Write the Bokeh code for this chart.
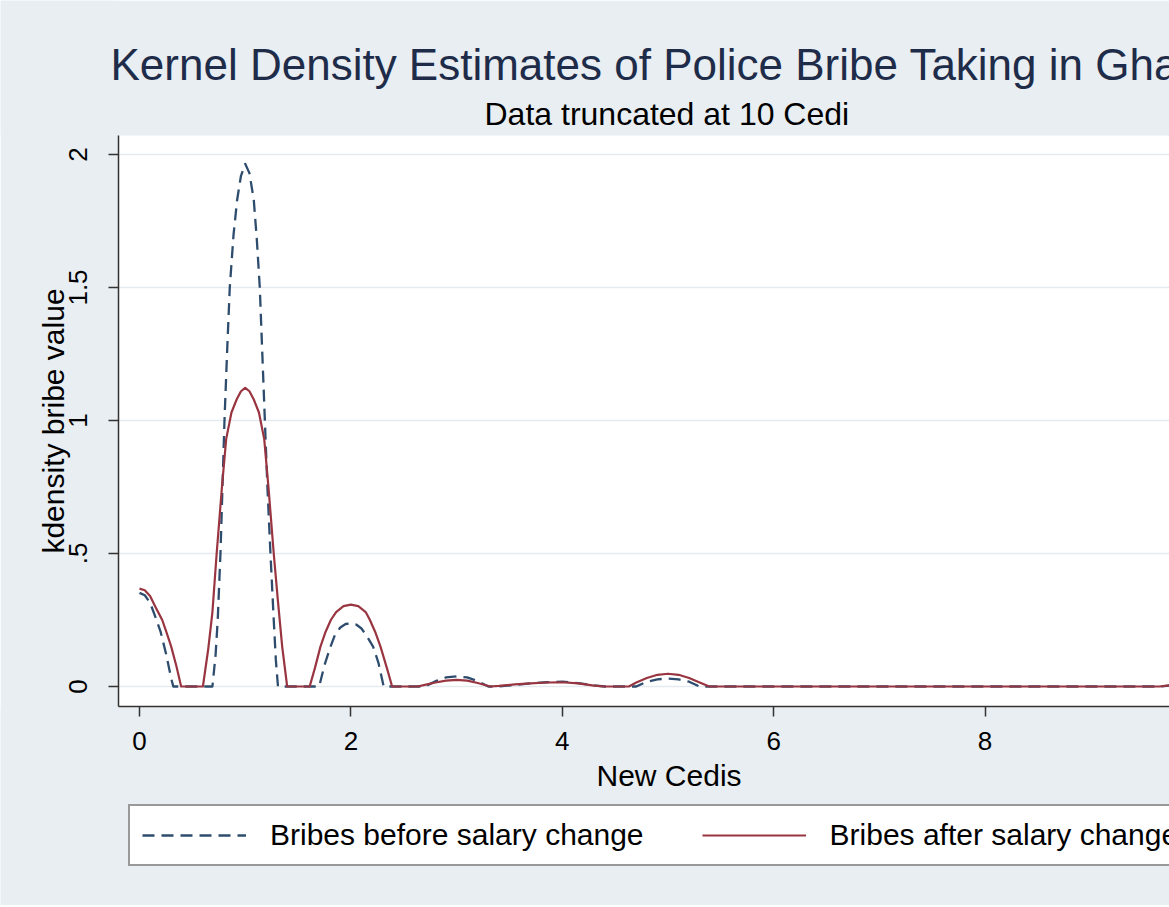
from bokeh.plotting import figure
from bokeh.models import Range1d, FixedTicker, Legend, LegendItem, Label, BoxAnnotation
from bokeh.embed import file_html
from bokeh.resources import INLINE

# ---------------- data ----------------
title_text = "Kernel Density Estimates of Police Bribe Taking in Ghana"
subtitle_text = "Data truncated at 10 Cedi"
x_label = "New Cedis"
y_label = "kdensity bribe value"
series_names = ["Bribes before salary change", "Bribes after salary change"]
x_ticks = [0, 2, 4, 6, 8, 10]
x_tick_labels = ["0", "2", "4", "6", "8", "10"]
y_ticks = [0, 0.5, 1, 1.5, 2]
y_tick_labels = ["0", ".5", "1", "1.5", "2"]

before_x = [0.00, 0.05, 0.10, 0.15, 0.20, 0.25, 0.30, 0.32,
            0.69, 0.72, 0.74, 0.766, 0.785, 0.804, 0.83, 0.854, 0.89, 0.924, 0.96, 1.00,
            1.04, 1.081, 1.11, 1.138, 1.162, 1.186, 1.21, 1.239, 1.27, 1.29, 1.31,
            1.70, 1.75, 1.807, 1.85, 1.90, 1.95, 2.00, 2.05, 2.10, 2.15, 2.21, 2.26, 2.31,
            2.70, 2.80, 2.90, 3.00, 3.10, 3.20, 3.30,
            3.40, 3.55, 3.70, 3.85, 4.00, 4.15, 4.30, 4.40,
            4.70, 4.80, 4.90, 5.00, 5.10, 5.20, 5.30,
            9.65, 9.75, 9.85, 10.00]
before_y = [0.352, 0.343, 0.315, 0.262, 0.205, 0.125, 0.03, 0.0,
            0.0, 0.12, 0.25, 0.5, 0.75, 1.0, 1.27, 1.5, 1.70, 1.83, 1.92, 1.965,
            1.93, 1.83, 1.68, 1.5, 1.25, 1.0, 0.75, 0.5, 0.25, 0.10, 0.0,
            0.0, 0.08, 0.15, 0.195, 0.222, 0.235, 0.238, 0.233, 0.218, 0.19, 0.15, 0.09, 0.0,
            0.0, 0.02, 0.034, 0.038, 0.034, 0.02, 0.0,
            0.0, 0.006, 0.012, 0.016, 0.018, 0.013, 0.004, 0.0,
            0.0, 0.018, 0.027, 0.03, 0.027, 0.018, 0.0,
            0.0, 0.004, 0.01, 0.015]

after_x = [0.00, 0.05, 0.10, 0.15, 0.215, 0.25, 0.30, 0.35, 0.394,
           0.60, 0.65, 0.69, 0.73, 0.78, 0.82, 0.87, 0.92, 0.96, 1.00, 1.04, 1.08, 1.13,
           1.18, 1.22, 1.27, 1.31, 1.35, 1.397,
           1.61, 1.66, 1.712, 1.76, 1.81, 1.86, 1.93, 2.00, 2.07, 2.14, 2.18, 2.23, 2.28, 2.34, 2.39,
           2.63, 2.70, 2.80, 2.90, 3.00, 3.10, 3.20, 3.32,
           3.40, 3.55, 3.70, 3.85, 4.00, 4.15, 4.30, 4.40,
           4.63, 4.70, 4.80, 4.90, 5.00, 5.10, 5.20, 5.30, 5.39,
           9.65, 9.75, 9.85, 10.00]
after_y = [0.368, 0.362, 0.34, 0.30, 0.25, 0.21, 0.15, 0.075, 0.0,
           0.0, 0.14, 0.28, 0.5, 0.75, 0.93, 1.03, 1.08, 1.11, 1.123, 1.11, 1.08, 1.03,
           0.93, 0.75, 0.5, 0.32, 0.15, 0.0,
           0.0, 0.07, 0.15, 0.205, 0.25, 0.28, 0.302, 0.308, 0.302, 0.28, 0.25, 0.205, 0.15, 0.07, 0.0,
           0.0, 0.006, 0.015, 0.022, 0.025, 0.022, 0.013, 0.0,
           0.002, 0.008, 0.012, 0.015, 0.016, 0.012, 0.003, 0.0,
           0.0, 0.015, 0.032, 0.044, 0.048, 0.044, 0.032, 0.015, 0.0,
           0.0, 0.005, 0.012, 0.018]

# ---------------- layout / style ----------------
W, H = 1169, 905
BG = "#E8EEF1"
FONT = "Liberation Sans"
X0_PX, X_PER = 139.0, 105.7      # canvas px of x=0, px per unit
Y0_PX, Y_PER = 686.0, 266.0      # canvas px of y=0, px per unit
PLOT_L, PLOT_T, PLOT_B = 118, 135, 706   # canvas px of the white plot region


def px_to_x(px):
    return (px - X0_PX) / X_PER


def py_to_y(py):
    return (Y0_PX - py) / Y_PER


x_left, x_right = px_to_x(PLOT_L), px_to_x(W)
y_bot, y_top = py_to_y(PLOT_B), py_to_y(PLOT_T)

p = figure(width=W, height=H, output_backend="svg", toolbar_location=None,
           x_range=Range1d(px_to_x(0), px_to_x(W)),
           y_range=Range1d(py_to_y(H), py_to_y(0)),
           min_border_left=0, min_border_right=0,
           min_border_top=0, min_border_bottom=0)
p.background_fill_color = "white"
p.border_fill_color = BG
p.outline_line_color = None

p.xgrid.grid_line_color = None
p.ygrid.grid_line_color = "#E4EAEE"
p.ygrid.grid_line_width = 1.5
p.ygrid.ticker = FixedTicker(ticks=y_ticks)

# graph-region background around the white plot region
for kw in (dict(right=x_left), dict(bottom=y_top), dict(top=y_bot)):
    p.add_layout(BoxAnnotation(fill_color=BG, fill_alpha=1.0, line_color=None,
                               level="underlay", **kw))

r_before = p.line(before_x, before_y, line_color="#2E4D6E", line_width=2.3,
                  line_dash="12 7", line_join="round")
r_after = p.line(after_x, after_y, line_color="#993540", line_width=2.2,
                 line_join="round")

# axes, fixed at the edges of the plot region
p.xaxis.fixed_location = y_bot
p.yaxis.fixed_location = x_left
p.xaxis.bounds = (x_left, x_right)
p.yaxis.bounds = (y_bot, y_top)
p.xaxis.ticker = FixedTicker(ticks=x_ticks)
p.xaxis.major_label_overrides = {t: l for t, l in zip(x_ticks, x_tick_labels)}
p.yaxis.ticker = FixedTicker(ticks=y_ticks)
p.yaxis.major_label_overrides = {t: l for t, l in zip(y_ticks, y_tick_labels)}
p.yaxis.major_label_orientation = "vertical"
for ax in (p.xaxis, p.yaxis):
    ax.axis_line_color = "#333333"
    ax.axis_line_width = 1.5
    ax.major_tick_line_color = "#333333"
    ax.major_tick_line_width = 1.5
    ax.major_tick_out = 10
    ax.major_tick_in = 0
    ax.minor_tick_line_color = None
    ax.major_label_text_font = FONT
    ax.major_label_text_font_size = "26px"
    ax.major_label_text_color = "black"
p.xaxis.major_label_standoff = 15
p.yaxis.major_label_standoff = 22
p.yaxis.axis_label = y_label
p.yaxis.axis_label_text_font = FONT
p.yaxis.axis_label_text_font_size = "30px"
p.yaxis.axis_label_text_font_style = "normal"
p.yaxis.axis_label_text_color = "black"
p.yaxis.axis_label_standoff = -4

# titles and x label
p.add_layout(Label(x=px_to_x(110), y=py_to_y(64), text=title_text, text_align="left",
                   text_baseline="alphabetic", text_font=FONT, text_font_size="44px",
                   text_color="#1E2C4A"))
p.add_layout(Label(x=px_to_x(484), y=py_to_y(113), text=subtitle_text, text_align="left",
                   text_baseline="alphabetic", text_font=FONT, text_font_size="32px",
                   text_color="black"))
p.add_layout(Label(x=px_to_x(596), y=py_to_y(775), text=x_label, text_align="left",
                   text_baseline="alphabetic", text_font=FONT, text_font_size="30px",
                   text_color="black"))

legend = Legend(items=[LegendItem(label=series_names[0], renderers=[r_before]),
                       LegendItem(label=series_names[1], renderers=[r_after])],
                orientation="horizontal", location=(128, H - 866))
legend.label_text_font = FONT
legend.label_text_font_size = "30px"
legend.label_text_color = "black"
legend.glyph_width = 104
legend.glyph_height = 30
legend.label_height = 30
legend.label_standoff = 24
legend.spacing = 58
legend.padding = 12
legend.margin = 0
legend.border_line_color = "#333333"
legend.border_line_width = 2.5
legend.background_fill_color = "white"
legend.background_fill_alpha = 1.0
p.add_layout(legend, "center")

open("out.html", "w").write(file_html(p, INLINE))
